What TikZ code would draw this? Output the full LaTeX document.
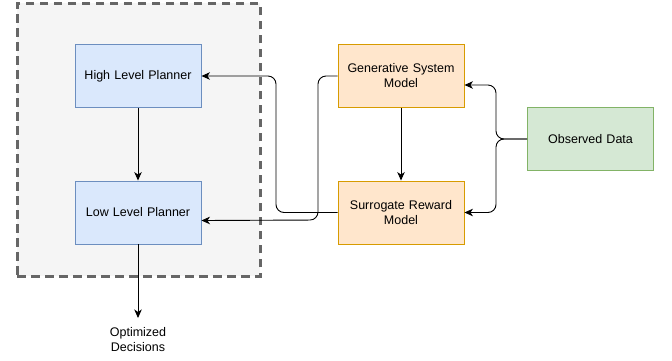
\documentclass[tikz,border=0pt]{standalone}
\usepackage{fontspec}
\setmainfont{Liberation Sans}
\usetikzlibrary{arrows.meta}
\definecolor{planfill}{HTML}{DAE8FC}
\definecolor{planline}{HTML}{6C8EBF}
\definecolor{modelfill}{HTML}{FFE6CC}
\definecolor{modelline}{HTML}{D79B00}
\definecolor{datafill}{HTML}{D5E8D4}
\definecolor{dataline}{HTML}{82B366}
\definecolor{groupfill}{HTML}{F5F5F5}
\definecolor{groupline}{HTML}{666666}
\tikzset{
	block/.style={draw, line width=0.9pt, minimum width=126pt, minimum height=63pt, text width=112pt, align=center, font=\fontsize{12.5}{15}\selectfont},
	planbox/.style={block, fill=planfill, draw=planline},
	modelbox/.style={block, fill=modelfill, draw=modelline},
	databox/.style={block, fill=datafill, draw=dataline},
	groupbox/.style={draw=groupline, fill=groupfill, line width=3pt, dash pattern=on 8.5pt off 5.5pt},
	link/.style={->, line width=0.9pt, rounded corners=8pt}
}

\begin{document}
\begin{tikzpicture}[x=1pt,y=-1pt,>={Stealth[length=8.5pt,width=7.5pt,inset=2.5pt]}]
	\useasboundingbox (0,0) rectangle (672,360);
	% grouping frame round the planners
	\node [groupbox, minimum width=243pt, minimum height=273pt] (grp) at (138.5,139.5) {};
	\node [planbox] (hlp) at (138,76) {High Level Planner};
	\node [planbox] (llp) at (138,212.5) {Low Level Planner};
	\node [modelbox] (gsm) at (401,76) {Generative System\\Model};
	\node [modelbox] (srm) at (401,212.5) {Surrogate Reward\\Model};
	\node [databox] (obs) at (590.5,139) {Observed Data};
	\node [align=center, font=\fontsize{12.5}{15}\selectfont, anchor=north, inner xsep=2pt, inner ysep=9pt, outer sep=0pt] (out) at (138,318) {Optimized\\Decisions};
	% connectors
	\draw [link] (hlp) -- (llp);
	\draw [link] (gsm) -- (srm);
	\draw [link] (llp) -- (out);
	\draw [link] (gsm.west) -- (318,76) -- (318,220) -- ([yshift=-8pt]llp.east);
	\draw [link] (srm.west) -- (276,212.5) -- (276,76) -- (hlp.east);
	\draw [link] (obs.west) -- (496,139) |- ([yshift=-9pt]gsm.east);
	\draw [link] (obs.west) -- (496,139) |- (srm.east);
\end{tikzpicture}
\end{document}
